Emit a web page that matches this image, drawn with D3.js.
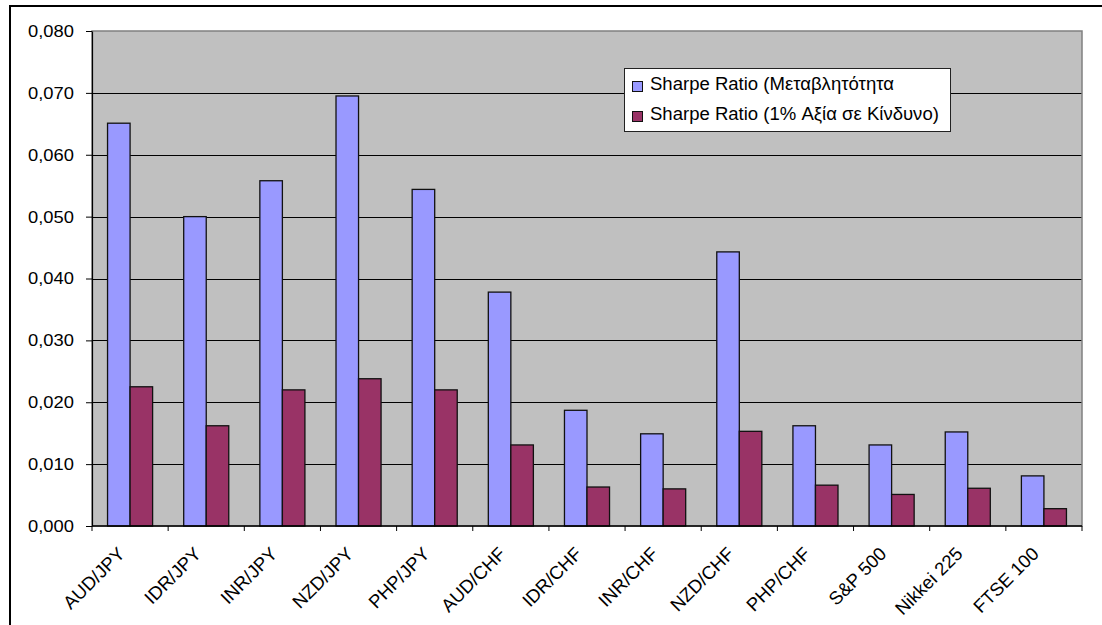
<!DOCTYPE html>
<html>
<head>
<meta charset="utf-8">
<script src="https://cdn.jsdelivr.net/npm/d3@7"></script>
<style>
  html, body { margin: 0; padding: 0; background: #ffffff; }
  svg { display: block; }
  text { font-family: "Liberation Sans", Arial, sans-serif; fill: #000; }
</style>
</head>
<body>
<svg id="chart" width="1102" height="625"></svg>
<script>
// Categories and series values
const categories = ["AUD/JPY", "IDR/JPY", "INR/JPY", "NZD/JPY", "PHP/JPY", "AUD/CHF", "IDR/CHF",
                    "INR/CHF", "NZD/CHF", "PHP/CHF", "S&P 500", "Nikkei 225", "FTSE 100"];
const seriesNames = ["Sharpe Ratio (Μεταβλητότητα", "Sharpe Ratio (1% Αξία σε Κίνδυνο)"];
const sharpeVolatility = [0.0651, 0.0500, 0.0558, 0.0695, 0.0544, 0.0378, 0.0187,
                          0.0149, 0.0443, 0.0162, 0.0131, 0.0152, 0.0081];
const sharpeVaR = [0.0225, 0.0162, 0.0220, 0.0238, 0.0220, 0.0131, 0.0063,
                   0.0060, 0.0153, 0.0066, 0.0051, 0.0061, 0.0028];
const yTicks = [0, 0.01, 0.02, 0.03, 0.04, 0.05, 0.06, 0.07, 0.08];
const seriesColors = ["#9999FF", "#993366"];

const svg = d3.select("#chart");
const plot = { left: 92, top: 31, right: 1082, bottom: 526 };

// Outer frame (left and top edges)
svg.append("path")
  .attr("d", "M10,625 V6 H1102")
  .attr("fill", "none").attr("stroke", "#000").attr("stroke-width", 2);

const x0 = d3.scaleBand().domain(categories).range([plot.left, plot.right]).padding(0);
const x1 = d3.scaleBand().domain(seriesNames).range([0, x0.bandwidth()])
  .paddingInner(0).paddingOuter(0.69);
const y = d3.scaleLinear().domain([0, 0.08]).range([plot.bottom, plot.top]);

// Plot background
svg.append("rect")
  .attr("x", plot.left).attr("y", plot.top)
  .attr("width", plot.right - plot.left).attr("height", plot.bottom - plot.top)
  .attr("fill", "#C0C0C0");

// Horizontal gridlines
svg.append("g").selectAll("line")
  .data(yTicks.filter(d => d > 0 && d < 0.08))
  .join("line")
  .attr("x1", plot.left).attr("x2", plot.right)
  .attr("y1", d => Math.round(y(d)) + 0.5).attr("y2", d => Math.round(y(d)) + 0.5)
  .attr("stroke", "#000").attr("stroke-width", 1);

// Plot border
svg.append("rect")
  .attr("x", plot.left).attr("y", plot.top)
  .attr("width", plot.right - plot.left).attr("height", plot.bottom - plot.top)
  .attr("fill", "none").attr("stroke", "#808080").attr("stroke-width", 1.5);

// Bars
const rows = categories.map((c, i) => ({ cat: c, values: [sharpeVolatility[i], sharpeVaR[i]] }));
const groups = svg.append("g").selectAll("g")
  .data(rows).join("g")
  .attr("transform", d => `translate(${x0(d.cat)},0)`);
groups.selectAll("rect")
  .data(d => d.values.map((v, k) => ({ v, k })))
  .join("rect")
  .attr("x", d => x1(seriesNames[d.k]))
  .attr("y", d => y(d.v))
  .attr("width", x1.bandwidth())
  .attr("height", d => y(0) - y(d.v))
  .attr("fill", d => seriesColors[d.k])
  .attr("stroke", "#111").attr("stroke-width", 1.3);

// Y axis
const commaLocale = d3.formatLocale({ decimal: ",", thousands: ".", grouping: [3], currency: ["", ""] });
const yFmt = commaLocale.format(".3f");
const yAxis = svg.append("g")
  .attr("transform", `translate(${plot.left},0)`)
  .call(d3.axisLeft(y).tickValues(yTicks).tickSize(6).tickSizeOuter(0).tickFormat(yFmt));
yAxis.select(".domain").attr("stroke", "#000").attr("stroke-width", 1.2);
yAxis.selectAll(".tick line").attr("stroke", "#000");
yAxis.selectAll(".tick text")
  .attr("x", null)
  .attr("transform", "translate(-18,0) scale(1.08,1)")
  .style("font-size", "17px")
  .attr("font-family", null);

// X axis baseline and category boundary ticks
svg.append("line")
  .attr("x1", plot.left).attr("x2", plot.right)
  .attr("y1", y(0)).attr("y2", y(0))
  .attr("stroke", "#000").attr("stroke-width", 1.3);
const boundaries = categories.map(c => x0(c)).concat([x0(categories[categories.length - 1]) + x0.step()]);
svg.append("g").selectAll("line")
  .data(boundaries).join("line")
  .attr("x1", d => d).attr("x2", d => d)
  .attr("y1", y(0)).attr("y2", y(0) + 5)
  .attr("stroke", "#000").attr("stroke-width", 1);

// Rotated category labels
svg.append("g").selectAll("text")
  .data(categories).join("text")
  .attr("transform", d => `translate(${x0(d) + x0.bandwidth() / 2 - 4},${y(0) + 29}) rotate(-45)`)
  .attr("text-anchor", "end")
  .style("font-size", "18.5px")
  .text(d => d);

// Legend
const legend = svg.append("g").attr("transform", "translate(624,68)");
legend.append("rect")
  .attr("x", 0.5).attr("y", 0.5).attr("width", 326).attr("height", 63)
  .attr("fill", "#fff").attr("stroke", "#222").attr("stroke-width", 1);
seriesNames.forEach((name, k) => {
  const row = legend.append("g").attr("transform", `translate(0,${13 + k * 30})`);
  row.append("rect")
    .attr("x", 8.5).attr("y", 0.5).attr("width", 10).attr("height", 10)
    .attr("fill", seriesColors[k]).attr("stroke", "#111").attr("stroke-width", 1);
  row.append("text")
    .attr("transform", "translate(26,9) scale(1.06,1)")
    .style("font-size", "17.5px")
    .text(name);
});
</script>
</body>
</html>
